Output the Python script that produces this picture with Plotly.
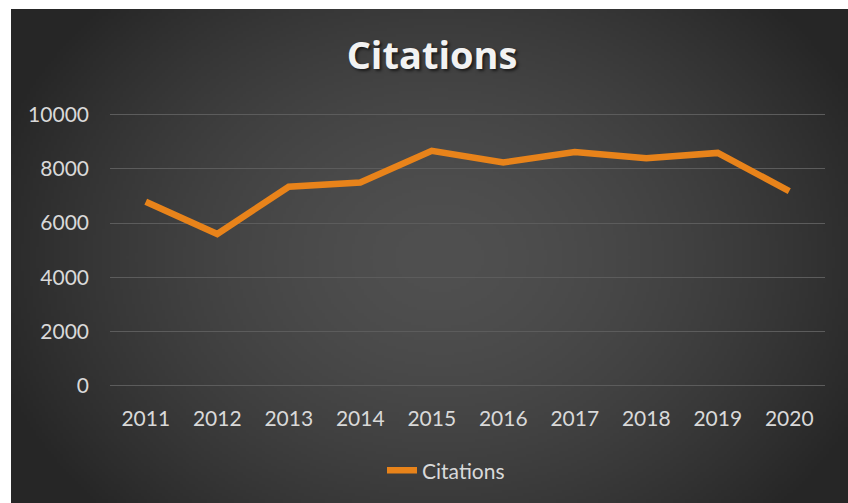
import base64, struct, zlib
import numpy as np
import plotly.graph_objects as go

# ---- data ----
years = ["2011", "2012", "2013", "2014", "2015", "2016", "2017", "2018", "2019", "2020"]
citations = [6790, 5600, 7340, 7500, 8670, 8240, 8620, 8390, 8590, 7180]
y_ticks = [0, 2000, 4000, 6000, 8000, 10000]
y_tick_text = ["0", "2000", "4000", "6000", "8000", "10000"]

W, H = 848, 503


def png_uri(arr):
    h, w, _ = arr.shape
    raw = b"".join(b"\x00" + arr[i].tobytes() for i in range(h))

    def chunk(tag, data):
        c = struct.pack(">I", len(data)) + tag + data
        return c + struct.pack(">I", zlib.crc32(tag + data) & 0xFFFFFFFF)

    png = b"\x89PNG\r\n\x1a\n"
    png += chunk(b"IHDR", struct.pack(">IIBBBBB", w, h, 8, 2, 0, 0, 0))
    png += chunk(b"IDAT", zlib.compress(raw, 9))
    png += chunk(b"IEND", b"")
    return "data:image/png;base64," + base64.b64encode(png).decode()


# radial dark gradient background (Excel style)
gw, gh = 279, 165
yy, xx = np.mgrid[0:gh, 0:gw]
cx, cy = gw * 0.51, gh * 0.50
d = np.sqrt(((xx - cx) / (gw * 0.56)) ** 2 + ((yy - cy) / (gh * 0.75)) ** 2)
d = np.clip(d, 0, 1)
v = 80 - (80 - 38) * d ** 1.6
img = np.repeat(v[:, :, None], 3, axis=2).astype(np.uint8)
bg_uri = png_uri(img)

y_lo, y_hi = -80, 10080
px_per = (385.7 - 114.7) / 10000.0
y_bot_px = 385.7 + (0 - y_lo) * px_per
y_top_px = 114.7 - (y_hi - 10000) * px_per

fig = go.Figure()
fig.add_trace(go.Scatter(
    x=years, y=citations, mode="lines", name="Citations",
    line=dict(color="#E8831A", width=6.5),
))

fig.update_layout(
    width=W, height=H,
    margin=dict(l=0, r=0, t=0, b=0, pad=0, autoexpand=False),
    paper_bgcolor="white",
    plot_bgcolor="rgba(0,0,0,0)",
    images=[dict(source=bg_uri, xref="paper", yref="paper",
                 x=11 / W, y=1 - 9 / H, sizex=(W - 11) / W, sizey=(H - 9) / H,
                 xanchor="left", yanchor="top", sizing="stretch", layer="below")],
    title=dict(text="<b>Citations</b>", x=432 / W, xref="paper", xanchor="center",
               y=1 - 56 / H, yref="container", yanchor="middle",
               font=dict(family="Open Sans", size=38, color="#F2F2F2",
                         shadow="2px 2px 3px rgba(0,0,0,0.6)")),
    xaxis=dict(domain=[110 / W, 825 / W], range=[-0.5, 9.5], showgrid=False,
               zeroline=False, showline=False, ticks="", ticklabelstandoff=16,
               tickfont=dict(family="Lato", size=21, color="#D9D9D9")),
    yaxis=dict(domain=[1 - y_bot_px / H, 1 - y_top_px / H], range=[y_lo, y_hi],
               tickvals=y_ticks, ticktext=y_tick_text,
               showgrid=True, gridcolor="#5C5C5C", gridwidth=1,
               zeroline=False, showline=False, ticks="", ticklabelstandoff=20,
               tickfont=dict(family="Lato", size=21, color="#D9D9D9")),
    showlegend=True,
    legend=dict(orientation="h", x=446 / W, y=1 - 470.7 / H, xanchor="center",
                yanchor="middle", bgcolor="rgba(0,0,0,0)",
                font=dict(family="Lato", size=21, color="#D9D9D9")),
)

fig.write_html(
    "out.html",
    config={"displayModeBar": False},
    post_script="document.body.style.margin='0';document.body.style.overflow='hidden';",
)
